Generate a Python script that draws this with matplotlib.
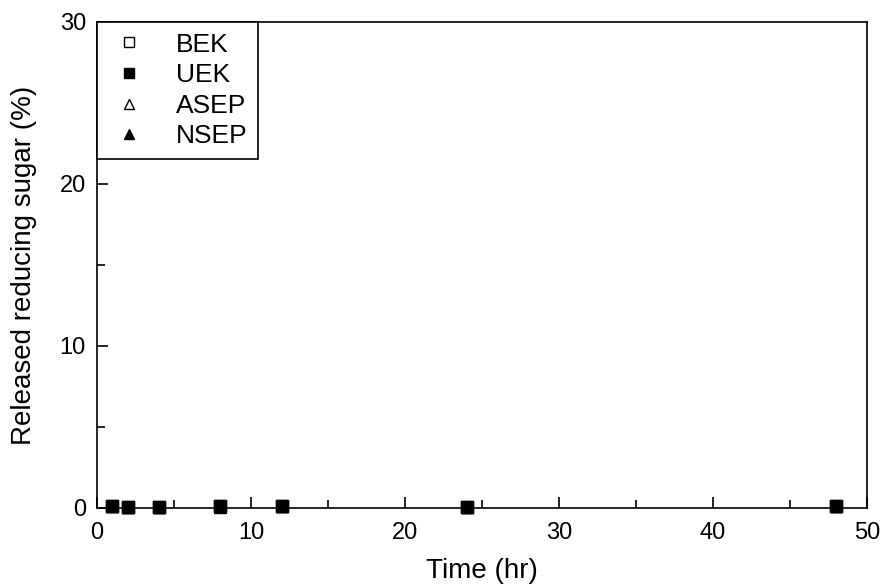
import matplotlib.pyplot as plt
from matplotlib.ticker import MultipleLocator

plt.rcParams['font.family'] = ['Liberation Sans', 'DejaVu Sans']

# Time points (hr) and released reducing sugar (%)
time = [1, 2, 4, 8, 12, 24, 48]
bek = [0.12, 0.05, 0.04, 0.10, 0.12, 0.05, 0.10]
uek = [0.15, 0.05, 0.05, 0.10, 0.15, 0.05, 0.15]
asep = [0.10, 0.04, 0.04, 0.08, 0.10, 0.04, 0.10]
nsep = [0.12, 0.05, 0.05, 0.10, 0.12, 0.05, 0.12]

fig = plt.figure(figsize=(8.83, 5.85), dpi=100)
ax = fig.add_axes([97 / 883, 1 - 508 / 585, 770 / 883, 486 / 585])

ms = 9
ax.plot(time, bek, 's', color='black', mfc='white', ms=ms, label='BEK', clip_on=False)
ax.plot(time, asep, '^', color='black', mfc='white', ms=ms, label='ASEP', clip_on=False)
ax.plot(time, nsep, '^', color='black', ms=ms, label='NSEP', clip_on=False)
ax.plot(time, uek, 's', color='black', ms=ms, label='UEK', clip_on=False)

ax.set_xlim(0, 50)
ax.set_ylim(0, 30)
ax.xaxis.set_major_locator(MultipleLocator(10))
ax.xaxis.set_minor_locator(MultipleLocator(5))
ax.yaxis.set_major_locator(MultipleLocator(10))
ax.yaxis.set_minor_locator(MultipleLocator(5))
ax.tick_params(which='both', direction='in', labelsize=17, width=1.2, pad=8)
ax.tick_params(axis='x', which='both', pad=10)
ax.tick_params(which='major', length=8)
ax.tick_params(which='minor', length=6)
for s in ax.spines.values():
    s.set_linewidth(1.2)

ax.set_xlabel('Time (hr)', fontsize=20, labelpad=10)
ax.set_ylabel('Released reducing sugar (%)', fontsize=20, labelpad=16)

h, l = ax.get_legend_handles_labels()
order = ['BEK', 'UEK', 'ASEP', 'NSEP']
hs = [h[l.index(o)] for o in order]
leg = ax.legend(hs, order, loc='upper left', fontsize=19, markerscale=0.8,
                frameon=True, fancybox=False, edgecolor='black', framealpha=1,
                borderaxespad=0, handletextpad=1.0, labelspacing=0.25,
                borderpad=0.4, handlelength=1.6)
leg.get_frame().set_linewidth(1.2)

fig.savefig('out.png', dpi=100)
